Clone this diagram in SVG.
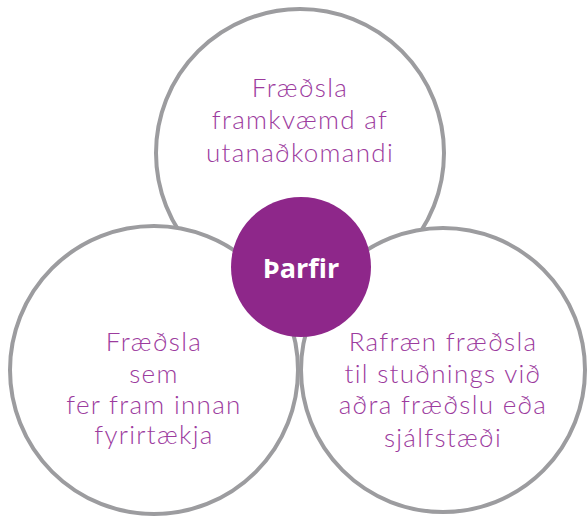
<svg xmlns="http://www.w3.org/2000/svg" width="588" height="517" viewBox="0 0 588 517">
<style>
.ring{fill:#ffffff;stroke:#9c9c9f;stroke-width:4}
.lbl{font-family:Lato,"Open Sans","Liberation Sans",sans-serif;font-size:26px;letter-spacing:1.3px;fill:#9c3b9e;text-anchor:middle;font-weight:300}
.hub{fill:#8e278a}
.hubt{font-family:"Open Sans",Lato,"Liberation Sans",sans-serif;font-size:27px;font-weight:bold;fill:#ffffff;text-anchor:middle}
</style>
<rect width="588" height="517" fill="#ffffff"/>
<g id="connectors"></g>
<g id="top">
<circle class="ring" cx="300" cy="153" r="144"/>
<text class="lbl"><tspan x="300" y="97">Fræðsla</tspan><tspan x="300" y="129">framkvæmd af</tspan><tspan x="300" y="162">utanaðkomandi</tspan></text>
</g>
<g id="left">
<circle class="ring" cx="154" cy="370" r="144"/>
<text class="lbl"><tspan x="154" y="351">Fræðsla</tspan><tspan x="154" y="383">sem</tspan><tspan x="154" y="414">fer fram innan</tspan><tspan x="154" y="444">fyrirtækja</tspan></text>
</g>
<g id="right">
<circle class="ring" cx="443" cy="370" r="142"/>
<text class="lbl"><tspan x="443" y="351">Rafræn fræðsla</tspan><tspan x="443" y="383">til stuðnings við</tspan><tspan x="443" y="414">aðra fræðslu eða</tspan><tspan x="443" y="447">sjálfstæði</tspan></text>
</g>
<g id="center">
<circle class="hub" cx="301" cy="267" r="70"/>
<text class="hubt" x="301" y="278">Þarfir</text>
</g>
</svg>
